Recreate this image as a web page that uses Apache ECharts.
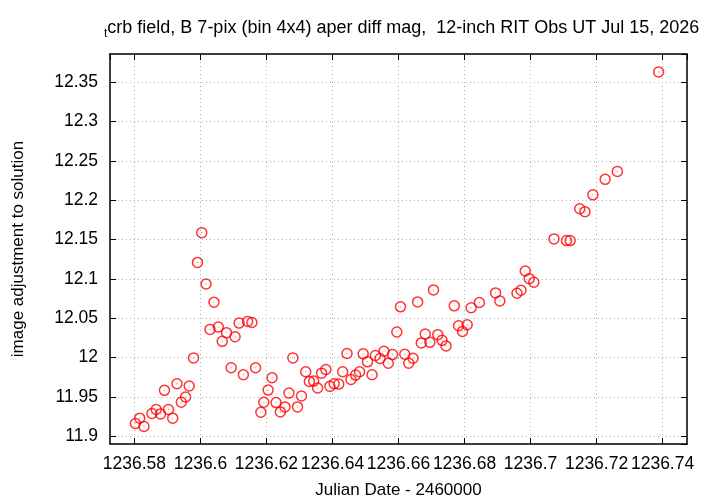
<!DOCTYPE html>
<html><head><meta charset="utf-8">
<script src="https://cdn.jsdelivr.net/npm/echarts@6/dist/echarts.min.js"></script>
<style>html,body{margin:0;padding:0;background:#fff}#c{width:720px;height:504px}</style>
</head><body><div id="c"></div>
<script>
const titleText = 'crb field, B 7-pix (bin 4x4) aper diff mag,  12-inch RIT Obs UT Jul 15, 2026';
const xName = 'Julian Date - 2460000';
const yName = 'image adjustment to solution';
const jd = [1236.5803,1236.5816,1236.5829,1236.5853,1236.5866,1236.5879,1236.5891,1236.5903,1236.5916,1236.5929,
1236.5942,1236.5955,1236.5966,1236.5979,1236.5991,1236.6004,1236.6017,1236.6029,1236.6041,1236.6054,
1236.6066,1236.6079,1236.6093,1236.6105,1236.6117,1236.6130,1236.6143,1236.6156,1236.6167,1236.6183,
1236.6192,1236.6205,1236.6217,1236.6229,1236.6242,1236.6256,1236.6268,1236.6280,1236.6294,1236.6306,
1236.6319,1236.6330,1236.6343,1236.6355,1236.6367,1236.6380,1236.6392,1236.6405,1236.6419,1236.6431,
1236.6444,1236.6456,1236.6470,1236.6482,1236.6493,1236.6506,1236.6520,1236.6530,1236.6544,1236.6556,
1236.6569,1236.6582,1236.6595,1236.6606,1236.6619,1236.6631,1236.6644,1236.6658,1236.6669,1236.6681,
1236.6695,1236.6706,1236.6719,1236.6732,1236.6744,1236.6769,1236.6782,1236.6794,1236.6808,1236.6820,
1236.6845,1236.6894,1236.6907,1236.6959,1236.6971,1236.6984,1236.6996,1236.7010,1236.7071,1236.7109,
1236.7120,1236.7149,1236.7165,1236.7189,1236.7226,1236.7263,1236.7388];
const mag = [11.9164,11.9231,11.9126,11.9290,11.9341,11.9285,11.9585,11.9341,11.9231,11.9669,
11.9433,11.9500,11.9639,11.9997,12.1210,12.1588,12.0936,12.0359,12.0705,12.0389,
12.0207,12.0317,11.9871,12.0266,12.0439,11.9783,12.0460,12.0447,11.9871,11.9307,
11.9433,11.9588,11.9745,11.9429,11.9311,11.9374,11.9550,11.9997,11.9374,11.9513,
11.9821,11.9698,11.9702,11.9614,11.9803,11.9850,11.9635,11.9669,11.9664,11.9821,
12.0052,11.9723,11.9778,11.9821,12.0048,11.9947,11.9783,12.0027,11.9989,12.0081,
11.9929,12.0039,12.0326,12.0645,12.0043,11.9929,11.9992,12.0708,12.0187,12.0300,
12.0194,12.0860,12.0292,12.0220,12.0149,12.0658,12.0405,12.0333,12.0418,12.0633,
12.0700,12.0822,12.0721,12.0818,12.0856,12.1100,12.1003,12.0957,12.1508,12.1487,
12.1487,12.1891,12.1854,12.2068,12.2265,12.2366,12.3629];
const xMin = 1236.5726, xMax = 1236.7474, xStep = 0.02;
const yMin = 11.8903, yMax = 12.3857, yStep = 0.05;

const pts = jd.map((x, i) => [x, mag[i]]);
const F = 'Liberation Sans, Arial, sans-serif';
const isTick = (v, s) => Math.abs(v / s - Math.round(v / s)) < 1e-6;
const fmt = s => v => isTick(v, s) ? String(+v.toFixed(2)) : '';
const axLine = {show: true, lineStyle: {color: '#000', width: 1.5}};
const tick = {show: true, inside: true, length: 6, lineStyle: {color: '#000', width: 1}};
const grid = {show: true, lineStyle: {color: '#b0b0b0', type: [1, 3], width: 1}};

const chart = echarts.init(document.getElementById('c'), null, {renderer: 'canvas'});
chart.setOption({
  animation: false,
  backgroundColor: '#fff',
  title: {
    text: '{s|t}' + titleText, left: 99, top: 11,
    textStyle: {fontFamily: F, fontSize: 18, fontWeight: 'normal', color: '#000',
      rich: {s: {fontFamily: F, fontSize: 12, color: '#000', padding: [12, 0, 0, 0]}}}
  },
  grid: {left: 110, right: 33, top: 54, bottom: 58},
  xAxis: [{
    type: 'value', min: xMin, max: xMax, splitNumber: 9, minInterval: xStep, maxInterval: xStep,
    name: xName, nameLocation: 'middle', nameGap: 38,
    nameTextStyle: {fontFamily: F, fontSize: 17, color: '#000'},
    axisLine: axLine, axisTick: tick, splitLine: grid,
    axisLabel: {formatter: fmt(xStep), fontFamily: F, fontSize: 17.5, color: '#000', margin: 11, showMinLabel: false, showMaxLabel: false}
  }, {
    type: 'value', position: 'top', min: xMin, max: xMax, splitNumber: 9, minInterval: xStep, maxInterval: xStep,
    axisLine: axLine, axisTick: tick, splitLine: {show: false}, axisLabel: {show: false}
  }],
  yAxis: [{
    type: 'value', min: yMin, max: yMax, splitNumber: 10, minInterval: yStep, maxInterval: yStep,
    name: yName, nameLocation: 'middle', nameGap: 83,
    nameTextStyle: {fontFamily: F, fontSize: 17, color: '#000'},
    axisLine: axLine, axisTick: tick, splitLine: grid,
    axisLabel: {formatter: fmt(yStep), fontFamily: F, fontSize: 17.5, color: '#000', margin: 12, showMinLabel: false, showMaxLabel: false}
  }, {
    type: 'value', position: 'right', min: yMin, max: yMax, splitNumber: 10, minInterval: yStep, maxInterval: yStep,
    axisLine: axLine, axisTick: tick, splitLine: {show: false}, axisLabel: {show: false}
  }],
  series: [{
    type: 'scatter', data: pts, symbol: 'circle', symbolSize: 10,
    itemStyle: {color: 'rgba(0,0,0,0)', borderColor: '#ff0000', borderWidth: 1.5}
  }, {
    type: 'scatter', data: pts, symbol: 'circle', symbolSize: 1.5, silent: true,
    itemStyle: {color: '#ff8080'}
  }]
});
</script></body></html>
